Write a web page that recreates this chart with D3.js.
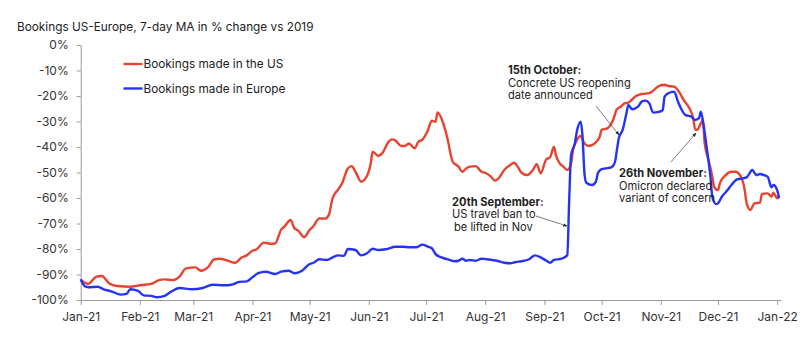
<!DOCTYPE html>
<html>
<head>
<meta charset="utf-8">
<script src="https://cdn.jsdelivr.net/npm/d3@7"></script>
<style>
  body { margin: 0; background: #fff; }
  svg { font-family: Inter, "Open Sans", sans-serif; }
</style>
</head>
<body>
<svg width="807" height="338"></svg>
<script>
// Bookings US vs Europe, 7-day MA, % change vs 2019

var usDates = ["2021-01-01","2021-01-05","2021-01-09","2021-01-12","2021-01-16","2021-01-20","2021-01-27","2021-02-01","2021-02-07","2021-02-11","2021-02-14","2021-02-18","2021-02-22","2021-02-25","2021-03-02","2021-03-05","2021-03-09","2021-03-12","2021-03-15","2021-03-21","2021-03-23","2021-03-26","2021-03-29","2021-04-01","2021-04-03","2021-04-07","2021-04-11","2021-04-13","2021-04-16","2021-04-18","2021-04-21","2021-04-23","2021-04-25","2021-04-28","2021-05-01","2021-05-03","2021-05-06","2021-05-09","2021-05-11","2021-05-13","2021-05-16","2021-05-18","2021-05-21","2021-05-23","2021-05-25","2021-05-28","2021-05-31","2021-06-02","2021-06-03","2021-06-06","2021-06-08","2021-06-11","2021-06-13","2021-06-15","2021-06-18","2021-06-20","2021-06-22","2021-06-25","2021-06-27","2021-06-29","2021-07-02","2021-07-04","2021-07-06","2021-07-07","2021-07-10","2021-07-12","2021-07-15","2021-07-18","2021-07-20","2021-07-22","2021-07-24","2021-07-27","2021-07-30","2021-08-01","2021-08-04","2021-08-06","2021-08-08","2021-08-11","2021-08-14","2021-08-16","2021-08-18","2021-08-20","2021-08-23","2021-08-26","2021-08-28","2021-08-30","2021-09-02","2021-09-04","2021-09-06","2021-09-07","2021-09-09","2021-09-11","2021-09-13","2021-09-15","2021-09-16","2021-09-18","2021-09-20","2021-09-22","2021-09-24","2021-09-27","2021-09-30","2021-10-01","2021-10-04","2021-10-07","2021-10-09","2021-10-11","2021-10-13","2021-10-15","2021-10-19","2021-10-22","2021-10-26","2021-10-28","2021-10-31","2021-11-03","2021-11-05","2021-11-08","2021-11-11","2021-11-13","2021-11-16","2021-11-18","2021-11-19","2021-11-20","2021-11-22","2021-11-23","2021-11-24","2021-11-26","2021-11-28","2021-11-29","2021-12-01","2021-12-02","2021-12-05","2021-12-08","2021-12-10","2021-12-13","2021-12-15","2021-12-16","2021-12-18","2021-12-20","2021-12-23","2021-12-24","2021-12-27","2021-12-29","2021-12-30","2022-01-01","2022-01-02"];
var usValues = [-92,-93.7,-90.9,-90.6,-93.5,-94.5,-94.8,-94.2,-93.7,-92.2,-91.9,-92.2,-90.6,-87.7,-87.2,-88.5,-86.9,-84,-83.8,-85.1,-85.4,-83.5,-82.5,-80.7,-80.2,-77.5,-78,-77.8,-72.5,-71,-68.6,-71.9,-72.8,-75.4,-72.5,-71,-68,-68.1,-66.7,-60.1,-56.6,-54.2,-48.4,-47.5,-49.7,-53.6,-51.4,-46.4,-41.8,-43.5,-42.5,-38.3,-37,-37.5,-39.6,-39.6,-38.6,-40.5,-37.9,-37.2,-33.3,-29.7,-30.1,-26.5,-30.7,-36,-45.8,-47.7,-49.7,-48.4,-47.7,-47.5,-49.7,-50.1,-51.6,-53.2,-52.3,-49,-47.1,-46.2,-47.7,-50.1,-51,-49,-46.7,-50.3,-44.8,-44,-39.9,-43.1,-46.4,-47.7,-49,-46.4,-41.2,-37.3,-35.7,-38.5,-39.6,-38.8,-36,-33.3,-32.7,-29.4,-25.2,-24.2,-22.9,-22.6,-20,-19.2,-18.9,-17.9,-16.1,-15.6,-16.1,-16.3,-18.9,-21.6,-24.8,-28.7,-33.1,-33.3,-30.7,-29.4,-38.5,-45.1,-51.6,-55.6,-56.9,-54.2,-51,-49.7,-49.7,-51.6,-56.9,-62.1,-64.7,-62.1,-61.8,-58.4,-58.2,-59.5,-57.9,-60.1,-59];

var euDates = ["2021-01-01","2021-01-03","2021-01-05","2021-01-10","2021-01-13","2021-01-17","2021-01-22","2021-01-25","2021-01-27","2021-01-31","2021-02-03","2021-02-07","2021-02-10","2021-02-14","2021-02-17","2021-02-22","2021-02-28","2021-03-06","2021-03-11","2021-03-17","2021-03-21","2021-03-25","2021-03-29","2021-04-01","2021-04-04","2021-04-08","2021-04-13","2021-04-16","2021-04-20","2021-04-23","2021-04-27","2021-05-01","2021-05-03","2021-05-06","2021-05-10","2021-05-13","2021-05-16","2021-05-19","2021-05-21","2021-05-25","2021-05-28","2021-05-31","2021-06-03","2021-06-06","2021-06-10","2021-06-15","2021-06-19","2021-06-22","2021-06-26","2021-06-29","2021-07-02","2021-07-04","2021-07-06","2021-07-09","2021-07-12","2021-07-16","2021-07-18","2021-07-20","2021-07-22","2021-07-24","2021-07-27","2021-07-30","2021-08-02","2021-08-07","2021-08-11","2021-08-14","2021-08-17","2021-08-20","2021-08-24","2021-08-27","2021-08-30","2021-09-02","2021-09-04","2021-09-06","2021-09-10","2021-09-12","2021-09-13","2021-09-14","2021-09-15","2021-09-17","2021-09-18","2021-09-20","2021-09-21","2021-09-22","2021-09-23","2021-09-26","2021-09-28","2021-09-29","2021-10-01","2021-10-03","2021-10-06","2021-10-08","2021-10-09","2021-10-10","2021-10-12","2021-10-14","2021-10-15","2021-10-17","2021-10-20","2021-10-22","2021-10-24","2021-10-26","2021-10-28","2021-10-31","2021-11-02","2021-11-03","2021-11-05","2021-11-08","2021-11-10","2021-11-12","2021-11-14","2021-11-17","2021-11-19","2021-11-21","2021-11-22","2021-11-23","2021-11-25","2021-11-27","2021-11-28","2021-11-30","2021-12-01","2021-12-03","2021-12-06","2021-12-08","2021-12-11","2021-12-14","2021-12-16","2021-12-19","2021-12-21","2021-12-23","2021-12-25","2021-12-27","2021-12-29","2021-12-30","2022-01-01","2022-01-02"];
var euValues = [-91.9,-94.5,-95,-94.8,-95.8,-96.6,-97.9,-97.6,-95.8,-96.4,-98.2,-98.4,-98.9,-98.4,-96.9,-95.3,-95.8,-95.3,-94,-94.2,-94,-92.9,-92.7,-91.1,-89.5,-88.9,-89.8,-88.9,-88.5,-89.5,-88.5,-85.9,-85.4,-84,-84.3,-83.3,-82.5,-82.7,-80,-80.4,-82.5,-81.7,-79.9,-80.4,-80.1,-79.1,-79.1,-79.3,-79.3,-78.3,-79.1,-79.7,-82,-83.3,-84,-84.8,-84.6,-83.8,-84.6,-84.3,-84.6,-83.8,-84,-84.6,-85.4,-85.6,-85.1,-84.8,-84,-82.5,-83.3,-84.6,-85.4,-84.3,-83.8,-83,-82.4,-60.8,-43.1,-38.5,-34,-30.1,-36,-50.3,-54,-54.9,-53.6,-50.3,-48.7,-48.4,-48,-45.8,-41.2,-36.6,-33.3,-26.8,-23.5,-25.2,-24.2,-22.2,-21.8,-22.9,-26.5,-26.2,-25.5,-20.3,-18.9,-18.3,-22.2,-25.5,-27.5,-28.1,-29.4,-28.7,-26.2,-29.4,-39.9,-51.6,-59.5,-62.4,-62.1,-59.5,-56.9,-54.9,-52.7,-52.3,-51.9,-49,-51,-50.6,-51,-51.6,-55.8,-54.9,-56.9,-60.1];

var yTicks = [0, -10, -20, -30, -40, -50, -60, -70, -80, -90, -100];
var seriesNames = ["Bookings made in the US", "Bookings made in Europe"];
var colors = ["#e8432f", "#2634f2"];

var parse = d3.timeParse("%Y-%m-%d");
var us = usDates.map(function(d, i) { return {date: parse(d), value: usValues[i]}; });
var eu = euDates.map(function(d, i) { return {date: parse(d), value: euValues[i]}; });

var svg = d3.select("svg");

var x = d3.scaleTime()
    .domain([parse("2021-01-01"), parse("2022-01-03")])
    .range([80.7, 781]);
var y = d3.scaleLinear().domain([-100, 0]).range([300, 45]);

// title
svg.append("text")
    .attr("x", 17).attr("y", 30.5)
    .style("font-size", "11.8px").style("fill", "#222")
    .text("Bookings US-Europe, 7-day MA in % change vs 2019");

// axes
var yAxis = svg.append("g")
    .attr("transform", "translate(80.7,0)")
    .call(d3.axisLeft(y).tickValues(yTicks).tickSize(4).tickSizeOuter(0)
      .tickFormat(function(d) { return d + "%"; }));
var xAxis = svg.append("g")
    .attr("transform", "translate(0,300)")
    .call(d3.axisBottom(x).ticks(d3.timeMonth.every(1)).tickSize(5).tickSizeOuter(0)
      .tickFormat(d3.timeFormat("%b-%y")));
[yAxis, xAxis].forEach(function(a) {
  a.select(".domain").attr("stroke", "#9a9a9a");
  a.selectAll(".tick line").attr("stroke", "#9a9a9a");
  a.selectAll(".tick text").style("font-size", "12px").style("fill", "#333")
    .style("font-family", "Inter, sans-serif");
});
yAxis.selectAll(".tick text").attr("x", -12);
xAxis.selectAll(".tick text").attr("y", 12);

// lines
var line = d3.line()
    .x(function(d) { return x(d.date); })
    .y(function(d) { return y(d.value); })
    .curve(d3.curveMonotoneX);

[us, eu].forEach(function(s, i) {
  svg.append("path")
    .datum(s)
    .attr("fill", "none")
    .attr("stroke", colors[i])
    .attr("stroke-width", 2.4)
    .attr("stroke-linejoin", "round")
    .attr("d", line);
});

// legend
var legend = svg.selectAll("g.legend").data(seriesNames).enter().append("g")
    .attr("transform", function(d, i) { return "translate(123.5," + (64 + i * 24.5) + ")"; });
legend.append("line")
    .attr("x1", 0).attr("x2", 19)
    .attr("stroke", function(d, i) { return colors[i]; })
    .attr("stroke-width", 2.4);
legend.append("text")
    .attr("x", 20).attr("dy", "0.35em")
    .style("font-size", "11.8px").style("fill", "#222")
    .text(function(d) { return d; });

// annotations
svg.append("defs").append("marker")
    .attr("id", "arrow")
    .attr("viewBox", "0 0 10 10")
    .attr("refX", 9).attr("refY", 5)
    .attr("markerWidth", 6).attr("markerHeight", 6)
    .attr("orient", "auto")
  .append("path")
    .attr("d", "M0,1L10,5L0,9z")
    .attr("fill", "#222");

var notes = [
  {x: 508, y: 74, lines: ["15th October:", "Concrete US reopening", "date announced"],
   from: [596, 106], to: [619, 135]},
  {x: 452, y: 205.5, lines: ["20th September:", "US travel ban to", " be lifted in Nov"],
   from: [536, 216], to: [567, 226]},
  {x: 619, y: 177, lines: ["26th November:", "Omicron declared", "variant of concern"],
   from: [671, 162], to: [696, 133]}
];

notes.forEach(function(n) {
  var t = svg.append("text")
      .attr("x", n.x).attr("y", n.y)
      .style("font-size", "11.1px").style("fill", "#222");
  n.lines.forEach(function(l, i) {
    t.append("tspan")
      .attr("x", n.x + (l[0] === " " ? 2 : 0))
      .attr("dy", i === 0 ? 0 : 12.5)
      .style("font-weight", i === 0 ? "bold" : "normal")
      .text(l.trim());
  });
  svg.append("line")
    .attr("x1", n.from[0]).attr("y1", n.from[1])
    .attr("x2", n.to[0]).attr("y2", n.to[1])
    .attr("stroke", "#444").attr("stroke-width", 0.7)
    .attr("marker-end", "url(#arrow)");
});
</script>
</body>
</html>
